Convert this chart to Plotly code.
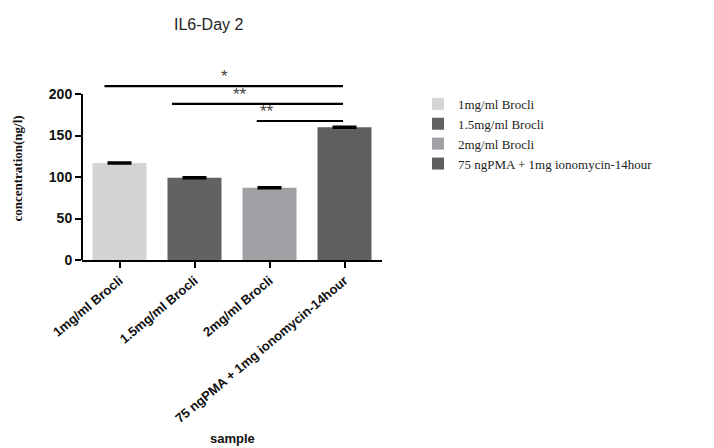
import plotly.graph_objects as go

# IL6 concentration on day 2 for each treatment
samples = ["1mg/ml Brocli", "1.5mg/ml Brocli", "2mg/ml Brocli",
           "75 ngPMA + 1mg ionomycin-14hour"]
concentration = [117, 99, 87, 160]
sem = [1.0, 1.0, 1.0, 1.0]
bar_colors = ["#d4d4d4", "#626262", "#a1a1a5", "#5f5f5f"]

# significance comparisons: (group a, group b), label, bracket height
sig_pairs = [(0, 3), (1, 3), (2, 3)]
sig_labels = ["*", "**", "**"]
sig_heights = [209.5, 188, 167.5]

y_ticks = [0, 50, 100, 150, 200]

fig = go.Figure()
for name, val, err, col in zip(samples, concentration, sem, bar_colors):
    fig.add_trace(go.Bar(
        x=[name], y=[val], name=name, width=0.72,
        marker=dict(color=col, line=dict(width=0)),
        error_y=dict(type="data", array=[err], color="black",
                     thickness=1.8, width=12),
    ))

# significance brackets (horizontal lines) and star labels
star_offsets = [0.0, -0.25, -0.45]
for (a, b), lab, h, so in zip(sig_pairs, sig_labels, sig_heights, star_offsets):
    x0 = a - 0.2 if a == 0 else a - 0.3 if a == 1 else a - 0.17
    fig.add_shape(type="line", xref="x", yref="y",
                  x0=x0, x1=b - 0.02, y0=h, y1=h,
                  line=dict(color="black", width=2.2))
    fig.add_annotation(x=(x0 + b) / 2 + so, y=h, xref="x", yref="y",
                       text=lab, showarrow=False, yanchor="bottom", yshift=-2,
                       font=dict(family="Liberation Sans, Arial", size=17,
                                 color="#444"))

# y axis line only spanning the tick range
fig.add_shape(type="line", xref="paper", yref="y", x0=0, x1=0,
              y0=0, y1=200, line=dict(color="black", width=2))

fig.add_annotation(text="IL6-Day 2", xref="paper", yref="paper",
                   x=0.423, y=(260 - 25) / 183, showarrow=False,
                   xanchor="center", yanchor="middle",
                   font=dict(family="Liberation Sans, Arial", size=16,
                             color="#222"))
fig.add_annotation(text="sample", xref="paper", yref="paper",
                   x=0.5, y=(260 - 438) / 183, showarrow=False,
                   xanchor="center", yanchor="middle",
                   font=dict(family="Liberation Sans, Arial", size=13,
                             color="#111", weight="bold"))
fig.add_annotation(text="concentration(ng/l)", xref="paper", yref="paper",
                   x=(17 - 82) / 300, y=0.5, showarrow=False, textangle=-90,
                   xanchor="center", yanchor="middle",
                   font=dict(family="Liberation Serif, Times New Roman",
                             size=13, color="#111", weight="bold"))

fig.update_layout(
    width=714, height=448,
    margin=dict(l=82, r=332, t=77, b=188),
    plot_bgcolor="white", paper_bgcolor="white",
    barmode="overlay",
    showlegend=True,
    legend=dict(x=1.12, y=0.935, xanchor="left", yanchor="top",
                font=dict(family="Liberation Serif, Times New Roman",
                          size=13, color="#222"),
                bgcolor="rgba(0,0,0,0)", tracegroupgap=0,
                itemwidth=30),
    xaxis=dict(type="category", range=[-0.5, 3.5], showline=True,
               linecolor="black", linewidth=2, ticks="outside",
               ticklen=6, tickwidth=2, tickcolor="black", tickangle=-40,
               showgrid=False, zeroline=False,
               tickfont=dict(family="Liberation Sans, Arial", size=13,
                             color="#111", weight="bold")),
    yaxis=dict(range=[0, 220.5], tickvals=y_ticks, showline=False,
               ticks="outside", ticklen=6, tickwidth=2, tickcolor="black",
               showgrid=False, zeroline=False,
               tickfont=dict(family="Liberation Sans, Arial", size=14,
                             color="#111", weight="bold")),
)

fig.write_html("out.html")
